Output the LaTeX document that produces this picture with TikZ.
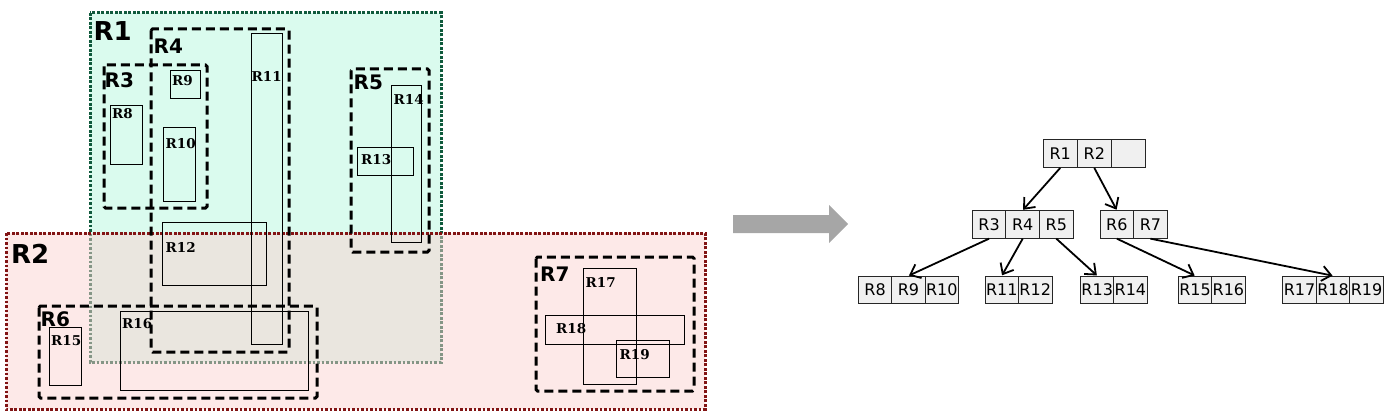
\documentclass[tikz,border=0pt]{standalone}
\usepackage{fontspec}
\setmainfont{DejaVu Sans}
\newfontfamily\smallfont{DejaVu Serif}
\usetikzlibrary{arrows.meta}
\definecolor{mint}{RGB}{218,251,238}
\definecolor{rone}{RGB}{15,90,60}
\definecolor{pinkf}{RGB}{251,211,209}
\definecolor{rtwo}{RGB}{130,20,20}
\definecolor{cellgray}{RGB}{240,240,240}
\definecolor{arrowgray}{RGB}{166,166,166}
\tikzset{
  big/.style={font=\fontsize{26}{30}\selectfont\bfseries, inner sep=0pt, anchor=base west},
  mid/.style={font=\fontsize{20}{24}\selectfont\bfseries, inner sep=0pt, anchor=base west},
  small/.style={font=\smallfont\fontsize{13.5}{15}\selectfont\bfseries, inner sep=0pt, anchor=base west},
  mbr/.style={draw=black, line width=1pt},
  grp/.style={draw=black, line width=3pt, dash pattern=on 9pt off 5pt, rounded corners=1.5pt},
  dotgrp/.style={line width=3pt, dash pattern=on 2.6pt off 1.9pt},
  cell/.style={draw=black!85, fill=cellgray, line width=1pt, minimum width=33.6pt, minimum height=27.5pt, inner sep=0pt, font=\fontsize{16}{19}\selectfont},
  link/.style={line width=1.8pt, -{Straight Barb[length=9pt,width=15pt]}, shorten >=0.5pt}
}
\begin{document}
\begin{tikzpicture}[x=1pt,y=-1pt]
\useasboundingbox (0,0) rectangle (1391,417);
% ---- big regions
\fill[mint] (90,13) rectangle (441,362);
\draw[rone, dotgrp] (90,13) rectangle (441,362);
\fill[pinkf, fill opacity=0.5] (6,233) rectangle (705,409);
\draw[rtwo, dotgrp] (6,233) rectangle (705,409);
\node[big] (lR1) at (93.5,40.7) {R1};
\node[big] (lR2) at (11,263) {R2};
% ---- group rectangles
\draw[grp] (151,29) rectangle (289,352);
\draw[grp] (104,65) rectangle (207,208);
\draw[grp] (351,69) rectangle (429,252);
\draw[grp] (39,306) rectangle (317,398);
\draw[grp] (536,257) rectangle (694,391);
\node[mid] (lR4) at (153.5,54) {R4};
\node[mid] (lR3) at (104.5,88) {R3};
\node[mid] (lR5) at (353.5,90) {R5};
\node[mid] (lR6) at (40.5,326) {R6};
\node[mid] (lR7) at (540,281.7) {R7};
% ---- leaf rectangles
\draw[mbr] (110,106) rectangle (142,164);
\draw[mbr] (170,71) rectangle (200,99);
\draw[mbr] (163,128) rectangle (195,201);
\draw[mbr] (251,34) rectangle (282,344);
\draw[mbr] (162,222) rectangle (266,285);
\draw[mbr] (357,147) rectangle (413,175);
\draw[mbr] (391,86) rectangle (421,242);
\draw[mbr] (49,327) rectangle (81,385);
\draw[mbr] (120,311) rectangle (308,390);
\draw[mbr] (583,268) rectangle (636,384);
\draw[mbr] (545,315) rectangle (684,344);
\draw[mbr] (616,340) rectangle (669,377);
\node[small] (lR8) at (112,119) {R8};
\node[small] (lR9) at (172,86) {R9};
\node[small] (lR10) at (165.5,148.3) {R10};
\node[small] (lR11) at (251.5,81.5) {R11};
\node[small] (lR12) at (165.5,252.3) {R12};
\node[small] (lR13) at (361,164.3) {R13};
\node[small] (lR14) at (393.5,105) {R14};
\node[small] (lR15) at (51,345.7) {R15};
\node[small] (lR16) at (122,328.3) {R16};
\node[small] (lR17) at (585.5,287) {R17};
\node[small] (lR18) at (556,333.5) {R18};
\node[small] (lR19) at (619.5,359.3) {R19};
% ---- gray arrow
\fill[arrowgray] (733,215) -- (829,215) -- (829,205) -- (848,224) -- (829,243) -- (829,233) -- (733,233) -- cycle;
% ---- tree
\node[cell, minimum width=34.1pt] (t1) at (1060.2,153.7) {R1};
\node[cell, minimum width=34.1pt] (t2) at (1094.3,153.7) {R2};
\node[cell, minimum width=34.1pt] (t0) at (1128.4,153.7) {};
\node[cell] (t3) at (989.1,224.4) {R3};
\node[cell] (t4) at (1022.7,224.4) {R4};
\node[cell] (t5) at (1056.3,224.4) {R5};
\node[cell] (t6) at (1116.8,224.4) {R6};
\node[cell] (t7) at (1150.4,224.4) {R7};
\node[cell] (t8) at (875.1,290) {R8};
\node[cell] (t9) at (908.5,290) {R9};
\node[cell] (t10) at (941.8,290) {R10};
\node[cell] (t11) at (1001.8,290) {R11};
\node[cell] (t12) at (1035.2,290) {R12};
\node[cell] (t13) at (1097.2,290) {R13};
\node[cell] (t14) at (1130.4,290) {R14};
\node[cell] (t15) at (1195.1,290) {R15};
\node[cell] (t16) at (1228.4,290) {R16};
\node[cell] (t17) at (1299.5,290) {R17};
\node[cell] (t18) at (1333,290) {R18};
\node[cell] (t19) at (1366.5,290) {R19};
\draw[link] (t1.south) -- (t4.north);
\draw[link] (t2.south) -- (t6.north);
\draw[link] (t3.south) -- (t9.north);
\draw[link] (t4.south) -- (t11.north);
\draw[link] (t5.south) -- (t13.north);
\draw[link] (t6.south) -- (t15.north);
\draw[link] (t7.south) -- (t18.north);
\end{tikzpicture}
\end{document}
